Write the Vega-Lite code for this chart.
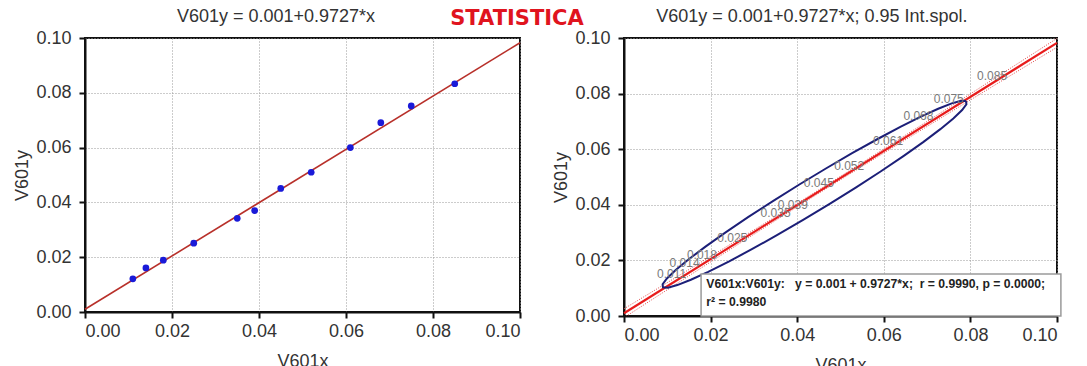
{
  "$schema": "https://vega.github.io/schema/vega-lite/v6.json",
  "padding": {"left": 12, "top": 6, "right": 5, "bottom": 0},
  "bounds": "flush",
  "spacing": 104,
  "config": {
    "font": "Liberation Sans",
    "view": {"stroke": "#111", "strokeWidth": 2},
    "axis": {
      "labelFontSize": 18, "labelColor": "#333", "labelPadding": 8,
      "titleFontSize": 18, "titleFontWeight": "normal", "titleColor": "#333",
      "domainColor": "#111", "domainWidth": 2,
      "tickColor": "#111", "tickWidth": 2, "tickSize": 6,
      "gridColor": "#999", "gridDash": [1, 2], "gridWidth": 1
    },
    "axisX": {"titlePadding": 12, "labelPadding": 4},
    "axisY": {"titlePadding": 4}
  },
  "datasets": {
    "pts": [
      {"x": 0.011, "y": 0.0121, "lab": "0.011"},
      {"x": 0.014, "y": 0.0161, "lab": "0.014"},
      {"x": 0.018, "y": 0.0189, "lab": "0.018"},
      {"x": 0.025, "y": 0.0251, "lab": "0.025"},
      {"x": 0.035, "y": 0.0342, "lab": "0.035"},
      {"x": 0.039, "y": 0.0370, "lab": "0.039"},
      {"x": 0.045, "y": 0.0451, "lab": "0.045"},
      {"x": 0.052, "y": 0.0510, "lab": "0.052"},
      {"x": 0.061, "y": 0.0600, "lab": "0.061"},
      {"x": 0.068, "y": 0.0691, "lab": "0.068"},
      {"x": 0.075, "y": 0.0752, "lab": "0.075"},
      {"x": 0.085, "y": 0.0833, "lab": "0.085"}
    ],
    "reg": [
      {"x": 0.0, "y": 0.001},
      {"x": 0.1, "y": 0.09827}
    ],
    "band": [
      {"x": 0.0, "y": -0.0006, "side": "lo"},
      {"x": 0.02, "y": 0.01945, "side": "lo"},
      {"x": 0.044, "y": 0.0432, "side": "lo"},
      {"x": 0.07, "y": 0.06819, "side": "lo"},
      {"x": 0.1, "y": 0.09667, "side": "lo"},
      {"x": 0.0, "y": 0.0026, "side": "hi"},
      {"x": 0.02, "y": 0.02145, "side": "hi"},
      {"x": 0.044, "y": 0.0444, "side": "hi"},
      {"x": 0.07, "y": 0.06999, "side": "hi"},
      {"x": 0.1, "y": 0.09987, "side": "hi"}
    ],
    "ell": [
      {"i": 0, "x": 0.0790, "y": 0.0773},
      {"i": 1, "x": 0.07786, "y": 0.07740},
      {"i": 2, "x": 0.07569, "y": 0.07648},
      {"i": 3, "x": 0.07256, "y": 0.07456},
      {"i": 4, "x": 0.06856, "y": 0.07171},
      {"i": 5, "x": 0.06382, "y": 0.06802},
      {"i": 6, "x": 0.05847, "y": 0.06358},
      {"i": 7, "x": 0.05268, "y": 0.05855},
      {"i": 8, "x": 0.04663, "y": 0.05306},
      {"i": 9, "x": 0.0405, "y": 0.0473},
      {"i": 10, "x": 0.03448, "y": 0.04143},
      {"i": 11, "x": 0.02874, "y": 0.03563},
      {"i": 12, "x": 0.02347, "y": 0.03008},
      {"i": 13, "x": 0.01882, "y": 0.02495},
      {"i": 14, "x": 0.01494, "y": 0.02039},
      {"i": 15, "x": 0.01194, "y": 0.01654},
      {"i": 16, "x": 0.00991, "y": 0.01352},
      {"i": 17, "x": 0.00892, "y": 0.01142},
      {"i": 18, "x": 0.0090, "y": 0.0103},
      {"i": 19, "x": 0.01014, "y": 0.01020},
      {"i": 20, "x": 0.01231, "y": 0.01112},
      {"i": 21, "x": 0.01544, "y": 0.01304},
      {"i": 22, "x": 0.01944, "y": 0.01589},
      {"i": 23, "x": 0.02418, "y": 0.01959},
      {"i": 24, "x": 0.02953, "y": 0.02402},
      {"i": 25, "x": 0.03532, "y": 0.02905},
      {"i": 26, "x": 0.04137, "y": 0.03454},
      {"i": 27, "x": 0.0475, "y": 0.0403},
      {"i": 28, "x": 0.05352, "y": 0.04617},
      {"i": 29, "x": 0.05926, "y": 0.05197},
      {"i": 30, "x": 0.06453, "y": 0.05752},
      {"i": 31, "x": 0.06918, "y": 0.06265},
      {"i": 32, "x": 0.07306, "y": 0.06721},
      {"i": 33, "x": 0.07606, "y": 0.07106},
      {"i": 34, "x": 0.07809, "y": 0.07408},
      {"i": 35, "x": 0.07908, "y": 0.07618},
      {"i": 36, "x": 0.0790, "y": 0.0773}
    ],
    "box": [
      {"x1": 0.0178, "x2": 0.1009, "y1": 0.0, "y2": 0.0151}
    ],
    "boxtext": [
      {"x": 0.019, "y": 0.0115, "t": "V601x:V601y:\u00a0\u00a0\u00a0y = 0.001 + 0.9727*x;\u00a0\u00a0r = 0.9990, p = 0.0000;"},
      {"x": 0.019, "y": 0.0052, "t": "r² = 0.9980"}
    ],
    "ltitle": [
      {"x": 0.0439, "y": 0.1077, "t": "V601y = 0.001+0.9727*x"}
    ],
    "brand": [
      {"x": 0.0993, "y": 0.1069, "t": "STATISTICA"}
    ],
    "rtitle": [
      {"x": 0.0434, "y": 0.1076, "t": "V601y = 0.001+0.9727*x; 0.95 Int.spol."}
    ]
  },
  "hconcat": [
    {
      "width": 435,
      "height": 274,
      "layer": [
        {
          "data": {"name": "reg"},
          "mark": {"type": "line", "color": "#b8302a", "strokeWidth": 1.6},
          "encoding": {
            "x": {"field": "x", "type": "quantitative", "scale": {"domain": [0, 0.1], "nice": false},
                  "axis": {"values": [0, 0.02, 0.04, 0.06, 0.08, 0.1], "format": ".2f", "title": "V601x"}},
            "y": {"field": "y", "type": "quantitative", "scale": {"domain": [0, 0.1], "nice": false},
                  "axis": {"values": [0, 0.02, 0.04, 0.06, 0.08, 0.1], "format": ".2f", "title": "V601y"}}
          }
        },
        {
          "data": {"name": "pts"},
          "mark": {"type": "point", "filled": true, "color": "#1a1ad8", "size": 45, "opacity": 1},
          "encoding": {
            "x": {"field": "x", "type": "quantitative"},
            "y": {"field": "y", "type": "quantitative"}
          }
        },
        {
          "data": {"name": "ltitle"},
          "mark": {"type": "text", "fontSize": 18, "color": "#333", "align": "center", "baseline": "middle"},
          "encoding": {
            "x": {"field": "x", "type": "quantitative"},
            "y": {"field": "y", "type": "quantitative"},
            "text": {"field": "t"}
          }
        },
        {
          "data": {"name": "brand"},
          "mark": {"type": "text", "font": "DejaVu Sans", "fontWeight": "bold", "fontSize": 21, "color": "#e0141e", "align": "center", "baseline": "middle"},
          "encoding": {
            "x": {"field": "x", "type": "quantitative"},
            "y": {"field": "y", "type": "quantitative"},
            "text": {"field": "t"}
          }
        }
      ]
    },
    {
      "width": 433,
      "height": 278,
      "layer": [
        {
          "data": {"name": "band"},
          "mark": {"type": "line", "color": "#e04848", "strokeWidth": 1, "strokeDash": [1, 1.5], "interpolate": "monotone", "clip": true},
          "encoding": {
            "x": {"field": "x", "type": "quantitative", "scale": {"domain": [0, 0.1], "nice": false},
                  "axis": {"values": [0, 0.02, 0.04, 0.06, 0.08, 0.1], "format": ".2f", "title": "V601x"}},
            "y": {"field": "y", "type": "quantitative", "scale": {"domain": [0, 0.1], "nice": false},
                  "axis": {"values": [0, 0.02, 0.04, 0.06, 0.08, 0.1], "format": ".2f", "title": "V601y"}},
            "detail": {"field": "side"}
          }
        },
        {
          "data": {"name": "reg"},
          "mark": {"type": "line", "color": "#e81c1c", "strokeWidth": 2.2},
          "encoding": {
            "x": {"field": "x", "type": "quantitative"},
            "y": {"field": "y", "type": "quantitative"}
          }
        },
        {
          "data": {"name": "ell"},
          "mark": {"type": "line", "color": "#1c1f78", "strokeWidth": 2, "interpolate": "linear"},
          "encoding": {
            "x": {"field": "x", "type": "quantitative"},
            "y": {"field": "y", "type": "quantitative"},
            "order": {"field": "i", "type": "quantitative"}
          }
        },
        {
          "data": {"name": "pts"},
          "mark": {"type": "text", "fontSize": 12, "color": "#7a7a7a", "align": "center", "baseline": "middle", "dy": -8},
          "encoding": {
            "x": {"field": "x", "type": "quantitative"},
            "y": {"field": "y", "type": "quantitative"},
            "text": {"field": "lab"}
          }
        },
        {
          "data": {"name": "box"},
          "mark": {"type": "rect", "fill": "#ffffff", "stroke": "#9a9a9a", "strokeWidth": 1.5},
          "encoding": {
            "x": {"field": "x1", "type": "quantitative"},
            "x2": {"field": "x2"},
            "y": {"field": "y1", "type": "quantitative"},
            "y2": {"field": "y2"}
          }
        },
        {
          "data": {"name": "boxtext"},
          "mark": {"type": "text", "fontSize": 12.2, "fontWeight": "bold", "color": "#222", "align": "left", "baseline": "middle"},
          "encoding": {
            "x": {"field": "x", "type": "quantitative"},
            "y": {"field": "y", "type": "quantitative"},
            "text": {"field": "t"}
          }
        },
        {
          "data": {"name": "rtitle"},
          "mark": {"type": "text", "fontSize": 18, "color": "#333", "align": "center", "baseline": "middle"},
          "encoding": {
            "x": {"field": "x", "type": "quantitative"},
            "y": {"field": "y", "type": "quantitative"},
            "text": {"field": "t"}
          }
        }
      ]
    }
  ]
}
